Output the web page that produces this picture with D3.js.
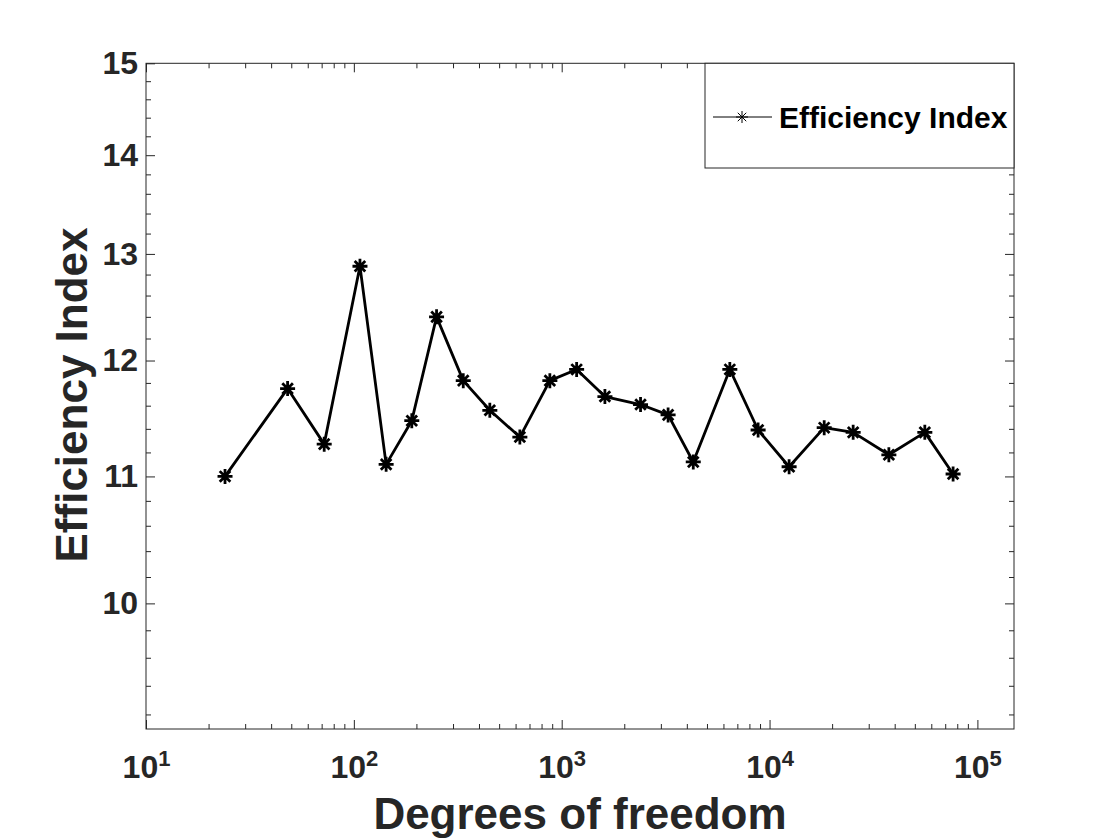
<!DOCTYPE html>
<html>
<head>
<meta charset="utf-8">
<script src="https://cdn.jsdelivr.net/npm/d3@7"></script>
<style>
  body { margin: 0; background: #fff; }
  text { font-family: "Liberation Sans", Arial, Helvetica, sans-serif; font-weight: bold; }
</style>
</head>
<body>
<script>
// data
const dof = [24, 48, 72, 107, 143, 190, 250, 336, 451, 629, 877, 1180,
  1614, 2395, 3250, 4295, 6440, 8810, 12420, 18320, 25250, 37500, 55850, 76400];
const efficiency = [11.00, 11.75, 11.27, 12.88, 11.10, 11.47, 12.40, 11.82, 11.56, 11.33, 11.82, 11.92,
  11.68, 11.61, 11.52, 11.12, 11.92, 11.39, 11.08, 11.41, 11.37, 11.18, 11.37, 11.02];

const xTicks = [1e1, 1e2, 1e3, 1e4, 1e5];
const xExponents = ["1", "2", "3", "4", "5"];
const yTicks = [10, 11, 12, 13, 14, 15];
const xDomain = [10, 1.5e5];
const yDomain = [9.1, 15];
const seriesName = "Efficiency Index";
const xTitle = "Degrees of freedom";
const yTitle = "Efficiency Index";

const width = 1120, height = 840;
const margin = { left: 146, top: 63.3, right: 1120 - 1014, bottom: 840 - 729 };
const w = width - margin.left - margin.right;
const h = height - margin.top - margin.bottom;
const axisColor = "#262626";

const svg = d3.select("body").append("svg")
  .attr("width", width)
  .attr("height", height);

const g = svg.append("g")
  .attr("transform", `translate(${margin.left},${margin.top})`);

const xScale = d3.scaleLog(xDomain, [0, w]);
const yScale = d3.scaleLog(yDomain, [h, 0]);

// minor ticks
const xMinor = [];
for (let d = 10; d <= 1e5; d *= 10) {
  for (let k = 2; k <= 9; k++) {
    if (d * k <= xDomain[1]) xMinor.push(d * k);
  }
}
const yMinor = [];
for (let k = 9; k < 15; k++) {
  [0.2, 0.4, 0.6, 0.8].forEach(f => {
    const v = k + f;
    if (v >= yDomain[0] && v <= yDomain[1]) yMinor.push(v);
  });
}

function styleAxis(sel) {
  sel.select(".domain").remove();
  sel.selectAll("line").attr("stroke", axisColor).attr("stroke-width", 1);
}

// minor ticks on all four sides
g.append("g").attr("transform", `translate(0,${h})`)
  .call(d3.axisBottom(xScale).tickValues(xMinor).tickSize(-5).tickSizeOuter(0).tickFormat(""))
  .call(styleAxis);
g.append("g")
  .call(d3.axisTop(xScale).tickValues(xMinor).tickSize(-5).tickSizeOuter(0).tickFormat(""))
  .call(styleAxis);
g.append("g")
  .call(d3.axisLeft(yScale).tickValues(yMinor).tickSize(-5).tickSizeOuter(0).tickFormat(""))
  .call(styleAxis);
g.append("g").attr("transform", `translate(${w},0)`)
  .call(d3.axisRight(yScale).tickValues(yMinor).tickSize(-5).tickSizeOuter(0).tickFormat(""))
  .call(styleAxis);

// major ticks
const xAxis = g.append("g").attr("transform", `translate(0,${h})`)
  .call(d3.axisBottom(xScale).tickValues(xTicks).tickSize(-9).tickSizeOuter(0).tickPadding(49).tickFormat(""))
  .call(styleAxis);
xAxis.selectAll(".tick text")
  .attr("fill", axisColor)
  .style("font-size", "32px")
  .attr("dy", 0)
  .each(function (d, i) {
    const t = d3.select(this);
    t.append("tspan").text("10");
    t.append("tspan").attr("dy", "-0.55em").style("font-size", "22px").text(xExponents[i]);
  });

g.append("g")
  .call(d3.axisTop(xScale).tickValues(xTicks).tickSize(-9).tickSizeOuter(0).tickFormat(""))
  .call(styleAxis);

g.append("g")
  .call(d3.axisLeft(yScale).tickValues(yTicks).tickSize(-9).tickSizeOuter(0).tickPadding(8).tickFormat(d3.format("d")))
  .call(styleAxis)
  .selectAll(".tick text")
  .attr("fill", axisColor)
  .style("font-size", "32px");

g.append("g").attr("transform", `translate(${w},0)`)
  .call(d3.axisRight(yScale).tickValues(yTicks).tickSize(-9).tickSizeOuter(0).tickFormat(""))
  .call(styleAxis);

// box
g.append("rect")
  .attr("x", 0).attr("y", 0)
  .attr("width", w).attr("height", h)
  .attr("fill", "none")
  .attr("stroke", axisColor)
  .attr("stroke-width", 1);

// series line
const line = d3.line()
  .x((d, i) => xScale(dof[i]))
  .y(d => yScale(d));

g.append("path")
  .datum(efficiency)
  .attr("fill", "none")
  .attr("stroke", "#000")
  .attr("stroke-width", 2.8)
  .attr("stroke-linejoin", "round")
  .attr("d", line);

// asterisk marker
function asterisk(r) {
  const s = r * Math.SQRT1_2;
  return `M${-r},0L${r},0M0,${-r}L0,${r}M${-s},${-s}L${s},${s}M${-s},${s}L${s},${-s}`;
}

g.selectAll(".marker")
  .data(efficiency)
  .join("path")
  .attr("class", "marker")
  .attr("transform", (d, i) => `translate(${xScale(dof[i])},${yScale(d)})`)
  .attr("d", asterisk(7.5))
  .attr("fill", "none")
  .attr("stroke", "#000")
  .attr("stroke-width", 2.8);

// axis titles
svg.append("text")
  .attr("x", 580)
  .attr("y", 829)
  .attr("text-anchor", "middle")
  .attr("fill", axisColor)
  .style("font-size", "44px")
  .text(xTitle);

svg.append("text")
  .attr("transform", "translate(87,395) rotate(-90)")
  .attr("text-anchor", "middle")
  .attr("fill", axisColor)
  .style("font-size", "44px")
  .text(yTitle);

// legend
const legend = svg.append("g");
legend.append("rect")
  .attr("x", 705).attr("y", margin.top)
  .attr("width", 1014 - 705).attr("height", 168 - margin.top)
  .attr("fill", "#fff")
  .attr("stroke", axisColor)
  .attr("stroke-width", 1);
legend.append("line")
  .attr("x1", 713).attr("x2", 772)
  .attr("y1", 117).attr("y2", 117)
  .attr("stroke", "#000")
  .attr("stroke-width", 1);
legend.append("path")
  .attr("transform", "translate(742,117)")
  .attr("d", asterisk(6))
  .attr("fill", "none")
  .attr("stroke", "#000")
  .attr("stroke-width", 1);
legend.append("text")
  .attr("x", 779)
  .attr("y", 128)
  .attr("fill", "#000")
  .style("font-size", "30px")
  .text(seriesName);
</script>
</body>
</html>
